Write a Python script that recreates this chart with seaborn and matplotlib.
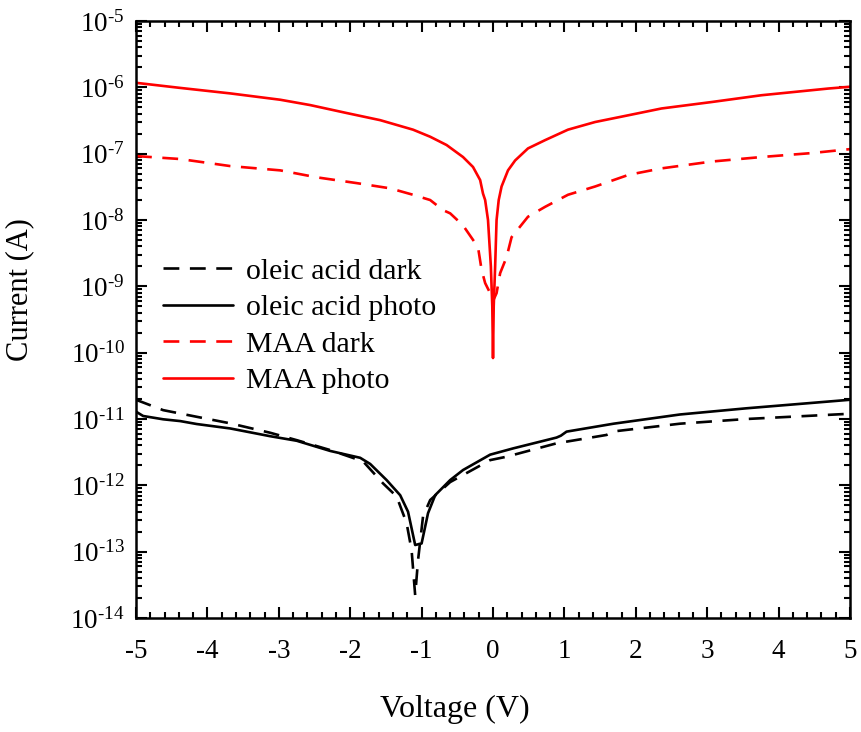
import numpy as np
import pandas as pd
import matplotlib
matplotlib.use("Agg")
import matplotlib.pyplot as plt
import seaborn as sns
from matplotlib.ticker import MultipleLocator, LogLocator, FuncFormatter, NullFormatter

# ---- I-V data (voltage in V, current in A) ----
v_oa_dark = [-5.0, -4.62, -4.15, -3.68, -3.12, -2.75, -2.28, -1.82, -1.54, -1.35, -1.21,
             -1.14, -1.09, -1.05, -0.98, -0.88, -0.60, -0.04, 0.19, 0.89, 1.59, 1.69,
             2.62, 3.55, 5.0]
i_oa_dark = [1.95e-11, 1.36e-11, 1.08e-11, 8.6e-12, 6.2e-12, 4.8e-12, 3.4e-12, 2.3e-12,
             1.07e-12, 6.8e-13, 2.7e-13, 1.05e-13, 2.2e-14, 7.4e-14, 3.4e-13, 6.0e-13,
             1.12e-12, 2.4e-12, 2.7e-12, 4.3e-12, 5.75e-12, 6.5e-12, 8.5e-12, 1.0e-11,
             1.2e-11]

v_oa_photo = [-5.0, -4.90, -4.62, -4.38, -4.15, -3.68, -3.12, -2.75, -2.28, -1.86, -1.72,
              -1.49, -1.30, -1.19, -1.09, -1.0, -0.91, -0.81, -0.60, -0.42, -0.04, 0.28,
              0.89, 0.95, 1.03, 1.69, 2.62, 3.55, 5.0]
i_oa_photo = [1.29e-11, 1.11e-11, 9.9e-12, 9.3e-12, 8.4e-12, 7.2e-12, 5.5e-12, 4.7e-12,
              3.3e-12, 2.6e-12, 2.1e-12, 1.2e-12, 7.1e-13, 4.0e-13, 1.26e-13, 1.33e-13,
              3.8e-13, 7.1e-13, 1.2e-12, 1.7e-12, 2.9e-12, 3.6e-12, 5.25e-12, 5.6e-12,
              6.45e-12, 8.5e-12, 1.17e-11, 1.45e-11, 1.95e-11]

v_maa_dark = [-5.0, -4.38, -3.68, -2.98, -2.47, -1.91, -1.44, -1.12, -0.88, -0.70, -0.60,
              -0.42, -0.21, -0.16, -0.11, -0.04, 0.0, 0.05, 0.10, 0.19, 0.26, 0.49,
              0.73, 1.05, 1.43, 1.90, 2.36, 3.06, 3.76, 4.46, 5.0]
i_maa_dark = [9.2e-8, 8.3e-8, 6.5e-8, 5.6e-8, 4.4e-8, 3.6e-8, 3.0e-8, 2.4e-8, 2.0e-8,
              1.41e-8, 1.26e-8, 8.3e-9, 3.9e-9, 1.78e-9, 1.12e-9, 7.9e-10, 6.0e-10,
              7.9e-10, 1.58e-9, 2.75e-9, 5.5e-9, 1.12e-8, 1.58e-8, 2.4e-8, 3.2e-8,
              4.8e-8, 6.0e-8, 7.6e-8, 8.9e-8, 1.02e-7, 1.17e-7]

v_maa_photo = [-5.0, -4.38, -3.68, -2.98, -2.56, -2.05, -1.58, -1.12, -0.88, -0.65,
               -0.42, -0.28, -0.18, -0.14, -0.11, -0.07, -0.03, -0.01, 0.0, 0.01, 0.03,
               0.05, 0.08, 0.12, 0.21, 0.31, 0.49, 0.73, 1.05, 1.43, 1.90, 2.36, 3.06,
               3.76, 4.70, 5.0]
i_maa_photo = [1.17e-6, 9.8e-7, 8.1e-7, 6.5e-7, 5.4e-7, 4.1e-7, 3.2e-7, 2.3e-7, 1.8e-7,
               1.35e-7, 8.9e-8, 6.3e-8, 4.0e-8, 2.5e-8, 2.0e-8, 1.0e-8, 2.0e-9, 5.0e-10,
               8.3e-11, 5.0e-10, 2.0e-9, 1.0e-8, 2.0e-8, 3.2e-8, 5.6e-8, 7.9e-8, 1.2e-7,
               1.6e-7, 2.3e-7, 3.0e-7, 3.8e-7, 4.8e-7, 6.0e-7, 7.6e-7, 9.6e-7, 1.02e-6]

series = [
    ("oleic acid dark", v_oa_dark, i_oa_dark, "black", (6, 4)),
    ("oleic acid photo", v_oa_photo, i_oa_photo, "black", ""),
    ("MAA dark", v_maa_dark, i_maa_dark, "red", (6, 4)),
    ("MAA photo", v_maa_photo, i_maa_photo, "red", ""),
]

sns.set_style("ticks")
plt.rcParams["font.family"] = ["Liberation Serif", "DejaVu Serif"]
plt.rcParams["mathtext.fontset"] = "custom"
plt.rcParams["mathtext.rm"] = "Liberation Serif"
plt.rcParams["mathtext.it"] = "Liberation Serif:italic"
plt.rcParams["axes.unicode_minus"] = False
for key in ("text.color", "axes.labelcolor", "xtick.color", "ytick.color",
            "xtick.labelcolor", "ytick.labelcolor"):
    plt.rcParams[key] = "black"

fig = plt.figure(figsize=(8.62, 7.32), dpi=100)
ax = fig.add_axes([136 / 862, 1 - 618 / 732, (850 - 136) / 862, (618 - 21) / 732])

frames = []
for name, v, i, color, dash in series:
    frames.append(pd.DataFrame({"Voltage": v, "Current": i, "series": name}))
df = pd.concat(frames, ignore_index=True)

order = [s[0] for s in series]
palette = {s[0]: s[3] for s in series}
dashes = {s[0]: s[4] for s in series}

sns.lineplot(data=df, x="Voltage", y="Current", hue="series", style="series",
             hue_order=order, style_order=order, palette=palette, dashes=dashes,
             sort=False, estimator=None, linewidth=1.9, ax=ax)

ax.set_yscale("log")
ax.set_xlim(-5, 5)
ax.set_ylim(1e-14, 1e-5)

ax.xaxis.set_major_locator(MultipleLocator(1))
ax.xaxis.set_minor_locator(MultipleLocator(0.2))
ax.yaxis.set_major_locator(LogLocator(base=10, numticks=20))
ax.yaxis.set_minor_locator(LogLocator(base=10, subs=np.arange(2, 10), numticks=20))
ax.yaxis.set_major_formatter(
    FuncFormatter(lambda val, pos: r"10$^{\text{%d}}$" % round(np.log10(val))))
ax.yaxis.set_minor_formatter(NullFormatter())
ax.xaxis.set_major_formatter(FuncFormatter(lambda val, pos: "%d" % round(val)))

ax.tick_params(which="both", direction="in", top=True, right=True, width=1.5,
               colors="black", labelsize=19.5)
ax.tick_params(axis="x", pad=15)
ax.tick_params(axis="y", pad=8)
ax.tick_params(which="major", length=8)
ax.tick_params(which="minor", length=4)
for sp in ax.spines.values():
    sp.set_linewidth(1.8)
    sp.set_color("black")

ax.set_xlabel("Voltage (V)", fontsize=23)
ax.set_ylabel("Current (A)", fontsize=22)
ax.xaxis.set_label_coords((455 - 136) / 714, (618 - 695) / 597)
ax.yaxis.set_label_coords((34 - 136) / 714, (618 - 290) / 597)

handles, labels = ax.get_legend_handles_labels()
ax.legend(handles, labels, loc="upper left", bbox_to_anchor=(0.0, 0.648), frameon=False,
          fontsize=21.5, handlelength=2.35, handletextpad=0.45, labelspacing=0.32)

fig.savefig("out.png", dpi=100, facecolor="white")
